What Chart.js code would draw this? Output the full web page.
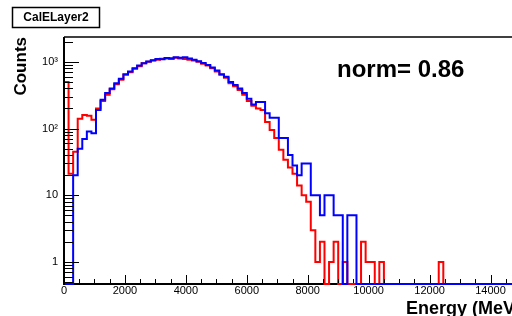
<!DOCTYPE html>
<html><head><meta charset="utf-8">
<script src="https://cdn.jsdelivr.net/npm/chart.js@4/dist/chart.umd.min.js"></script>
<style>
html,body{margin:0;padding:0;background:#fff;overflow:hidden;width:512px;height:316px;}
#wrap{position:absolute;left:0;top:0;width:540px;height:316px;}
</style></head><body>
<div id="wrap"><canvas id="c" width="540" height="316"></canvas></div>
<script>
// ---- data ----
const histTitle = 'CalELayer2';
const xAxisTitle = 'Energy (MeV)';
const yAxisTitle = 'Counts';
const normLabel = 'norm= 0.86';
const BIN_WIDTH_MEV = 150;
const X_MIN = 0, X_MAX = 15000;
const Y_MIN = 0.467, Y_MAX = 2360;
const xTickValues = [0, 2000, 4000, 6000, 8000, 10000, 12000, 14000];
const yTickValues = [1, 10, 100, 1000];
const yTickLabels = ['1', '10', '10²', '10³'];

// counts per 150 MeV bin (100 bins, 0..15000 MeV)
const redCounts = [
  500, 21, 45, 140, 160, 155, 135, 200, 260, 320,
  390, 460, 540, 640, 700, 790, 860, 950, 1000, 1050,
  1080, 1110, 1120, 1100, 1150, 1120, 1100, 1080, 1050, 1000,
  940, 880, 800, 720, 640, 580, 480, 430, 380, 320,
  260, 220, 200, 190, 125, 95, 72, 48, 34, 26,
  21, 14, 10, 8, 3, 1, 2, 0, 1, 2,
  0, 1, 0, 0, 0, 2, 1, 1, 0, 1,
  0, 0, 0, 0, 0, 0, 0, 0, 0, 0,
  0, 0, 1, 0, 0, 0, 0, 0, 0, 0,
  0, 0, 0, 0, 0, 0, 0, 0, 0, 0
];
const blueCounts = [
  0, 0, 20, 50, 70, 90, 85, 190, 270, 340,
  400, 480, 560, 650, 720, 800, 880, 950, 1010, 1060,
  1100, 1090, 1140, 1130, 1170, 1150, 1170, 1120, 1080, 1020,
  960, 900, 820, 740, 650, 600, 500, 450, 400, 340,
  280, 230, 250, 250, 170, 145, 145, 72, 72, 40,
  28, 20, 30, 30, 10, 10, 5, 10, 10, 5,
  5, 0, 5, 5, 0, 0, 0, 0, 0, 0,
  0, 0, 0, 0, 0, 0, 0, 0, 0, 0,
  0, 0, 0, 0, 0, 0, 0, 0, 0, 0,
  0, 0, 0, 0, 0, 0, 0, 0, 0, 0
];

function histPoints(counts) {
  const pts = [{x: X_MIN, y: Y_MIN}];
  counts.forEach((c, i) => pts.push({x: X_MIN + i * BIN_WIDTH_MEV, y: c > 0 ? c : Y_MIN}));
  const last = counts[counts.length - 1];
  pts.push({x: X_MIN + counts.length * BIN_WIDTH_MEV, y: last > 0 ? last : Y_MIN});
  return pts;
}

const FONT = '"Liberation Sans", Arial, Helvetica, sans-serif';

const rootDecor = {
  id: 'rootDecor',
  beforeDatasetsDraw(chart) {
    const {ctx, chartArea: a} = chart;
    ctx.save();
    ctx.strokeStyle = '#000';
    ctx.lineWidth = 2;
    ctx.beginPath(); ctx.moveTo(a.left - 1, a.bottom); ctx.lineTo(a.right, a.bottom); ctx.stroke();
    ctx.restore();
  },
  afterDatasetsDraw(chart) {
    const {ctx, chartArea: a, scales: {x, y}} = chart;
    ctx.save();
    ctx.strokeStyle = '#000';
    // top frame
    ctx.lineWidth = 1.5;
    ctx.beginPath(); ctx.moveTo(a.left, a.top); ctx.lineTo(a.right, a.top); ctx.stroke();
    // left axis
    ctx.lineWidth = 2;
    ctx.beginPath(); ctx.moveTo(a.left, a.top); ctx.lineTo(a.left, a.bottom + 1); ctx.stroke();
    // x ticks
    ctx.lineWidth = 1;
    for (let v = X_MIN; v <= X_MAX; v += 500) {
      const px = Math.round(x.getPixelForValue(v)) + 0.5;
      const len = v % 2000 === 0 ? 8 : 4;
      ctx.beginPath(); ctx.moveTo(px, a.bottom - 1); ctx.lineTo(px, a.bottom - 1 - len); ctx.stroke();
    }
    // y ticks
    for (let d = -1; d <= 3; d++) {
      for (let m = 1; m <= 9; m++) {
        const v = m * Math.pow(10, d);
        if (v < Y_MIN || v > Y_MAX) continue;
        const py = Math.round(y.getPixelForValue(v)) + 0.5;
        const len = m === 1 ? 15 : 9;
        ctx.beginPath(); ctx.moveTo(a.left, py); ctx.lineTo(a.left + len, py); ctx.stroke();
      }
    }
    ctx.fillStyle = '#000';
    // title box
    ctx.font = 'bold 12px ' + FONT;
    ctx.textBaseline = 'middle';
    ctx.textAlign = 'center';
    ctx.fillText(histTitle, 56, 17.5);
    ctx.lineWidth = 1.5;
    ctx.strokeRect(12.5, 7.5, 87, 20);
    // norm label
    ctx.font = 'bold 24px ' + FONT;
    ctx.textAlign = 'left';
    ctx.textBaseline = 'alphabetic';
    ctx.fillText(normLabel, 337, 77);
    // x axis title (right-aligned at axis end)
    ctx.font = 'bold 18px ' + FONT;
    ctx.textAlign = 'right';
    ctx.fillText(xAxisTitle, a.right, 314);
    // y axis title (right-aligned at axis top)
    ctx.save();
    ctx.translate(26, a.top);
    ctx.rotate(-Math.PI / 2);
    ctx.textAlign = 'right';
    ctx.font = 'bold 17px ' + FONT;
    ctx.fillText(yAxisTitle, 0, 0);
    ctx.restore();
    ctx.restore();
  }
};

new Chart(document.getElementById('c'), {
  type: 'line',
  data: {
    datasets: [
      { label: 'blue', data: histPoints(blueCounts), borderColor: '#0000ff', borderWidth: 2,
        stepped: 'before', pointRadius: 0, fill: false, clip: 4, order: 0 },
      { label: 'red', data: histPoints(redCounts), borderColor: '#ff0000', borderWidth: 2,
        stepped: 'before', pointRadius: 0, fill: false, clip: 4, order: 1 }
    ]
  },
  options: {
    responsive: false,
    devicePixelRatio: 1,
    animation: false,
    layout: { padding: { left: 0, top: 37, right: 19, bottom: 0 } },
    plugins: { legend: { display: false }, tooltip: { enabled: false } },
    scales: {
      x: {
        type: 'linear', min: X_MIN, max: X_MAX,
        grid: { display: false, drawTicks: false },
        border: { display: false },
        ticks: { autoSkip: false, maxRotation: 0, padding: 0, color: '#000',
                 font: { family: FONT, size: 11 },
                 callback: v => String(v) },
        afterBuildTicks: s => { s.ticks = xTickValues.map(v => ({ value: v })); },
        afterFit: s => { s.height = 32; }
      },
      y: {
        type: 'logarithmic', min: Y_MIN, max: Y_MAX,
        grid: { display: false, drawTicks: false },
        border: { display: false },
        ticks: { autoSkip: false, padding: 6, color: '#000',
                 font: { family: FONT, size: 11 },
                 callback: v => { const i = yTickValues.indexOf(v); return i >= 0 ? yTickLabels[i] : ''; } },
        afterBuildTicks: s => { s.ticks = yTickValues.map(v => ({ value: v })); },
        afterFit: s => { s.width = 64; }
      }
    }
  },
  plugins: [rootDecor]
});
</script>
</body></html>
